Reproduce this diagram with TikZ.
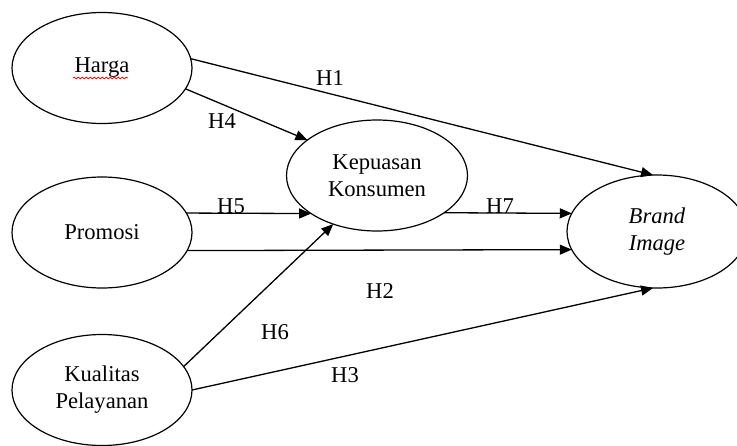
\documentclass[tikz,border=0pt]{standalone}
\usepackage{fontspec}
\setmainfont{Liberation Serif}
\usetikzlibrary{shapes.geometric,arrows.meta,decorations.pathmorphing}

\begin{document}
\begin{tikzpicture}[x=0.5pt,y=-0.5pt,
  font=\fontsize{11.3pt}{13.5pt}\selectfont,
  var/.style={draw,ellipse,line width=0.6pt,inner sep=0pt,outer sep=0pt,
    minimum width=90pt,minimum height=55.5pt,align=center},
  link/.style={draw,line width=0.65pt,-{Triangle[length=6pt,width=5pt]}},
  hyp/.style={inner sep=0pt}]
\useasboundingbox (0,0) rectangle (737,445);
\node[var] (harga) at (102,68) {Harga};
\node[var] (promosi) at (102,232.5) {Promosi};
\node[var] (kualitas) at (102,390) {Kualitas\\Pelayanan};
\node[var,minimum width=90.5pt] (kepuasan) at (377,175.5) {Kepuasan\\Konsumen};
\node[var,minimum height=56.5pt] (brand) at (657,231.5) {\textit{Brand}\\\textit{Image}};
\draw[red,line width=0.4pt,decorate,decoration={snake,amplitude=0.4pt,segment length=2pt}]
  ([xshift=-14.5pt,yshift=-5pt]harga.center) -- ([xshift=13pt,yshift=-5pt]harga.center);
\draw[link] (harga.6) -- (brand.94);
\draw[link] (harga.-14) -- (kepuasan.153);
\draw[link] (promosi.13) -- (kepuasan.210);
\draw[link] (promosi.-12) -- (brand.192);
\draw[link] (kepuasan.-29) -- (brand.168);
\draw[link] (kualitas.16) -- (kepuasan.228);
\draw[link] (kualitas.0) -- (brand.266);
\node[hyp] (h1) at (330,78) {H1};
\node[hyp] (h4) at (222,121) {H4};
\node[hyp] (h5) at (231,206) {H5};
\node[hyp] (h7) at (500,206) {H7};
\node[hyp] (h2) at (380,291) {H2};
\node[hyp] (h6) at (275,332) {H6};
\node[hyp] (h3) at (345,375) {H3};
\end{tikzpicture}
\end{document}
